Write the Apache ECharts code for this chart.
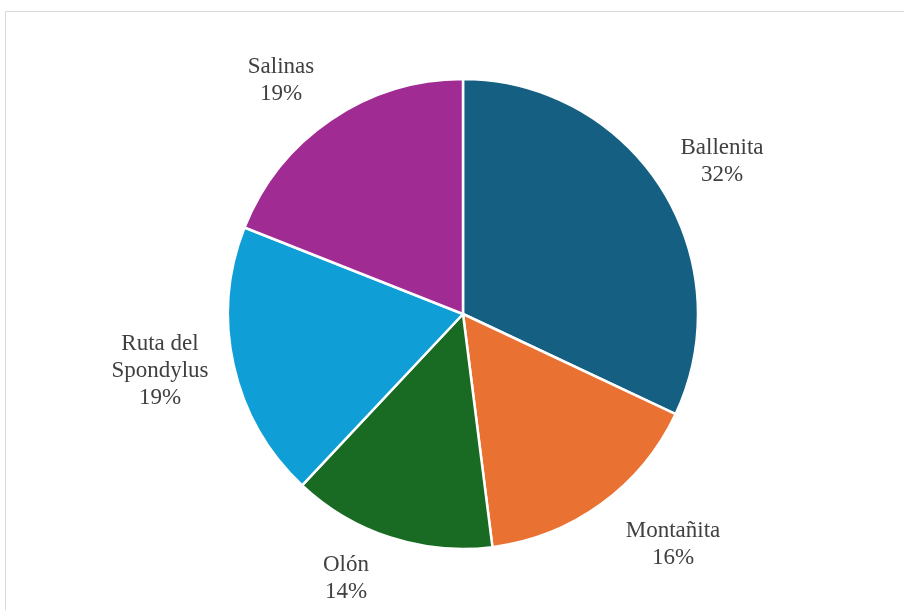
<!DOCTYPE html>
<html>
<head>
<meta charset="utf-8">
<script src="https://cdn.jsdelivr.net/npm/echarts@6/dist/echarts.min.js"></script>
<style>
  html, body { margin: 0; padding: 0; background: #ffffff; }
  #chart { width: 904px; height: 610px; }
</style>
</head>
<body>
<div id="chart"></div>
<script>
// Share of visits by destination (percent)
const categories = ['Ballenita', 'Montañita', 'Olón', 'Ruta del Spondylus', 'Salinas'];
const shares = [32, 16, 14, 19, 19];
const sliceColors = ['#156082', '#E97132', '#196B24', '#0F9ED5', '#A02B93'];

// Label anchor points (centre of each text block), best-fit outside the pie
const labelAnchors = [[722, 161], [673, 544], [346, 578], [160, 371], [281, 80]];

const chart = echarts.init(document.getElementById('chart'), null, { renderer: 'canvas' });

chart.setOption({
  backgroundColor: '#ffffff',
  animation: false,
  graphic: [{
    type: 'rect',
    shape: { x: 5.5, y: 11.5, width: 1000, height: 1000 },
    style: { fill: 'none', stroke: '#d9d9d9', lineWidth: 1 },
    silent: true
  }],
  series: [{
    type: 'pie',
    center: [463, 314],
    radius: 235,
    startAngle: 90,
    clockwise: true,
    avoidLabelOverlap: false,
    data: categories.map((name, i) => ({
      name: name,
      value: shares[i],
      itemStyle: { color: sliceColors[i] }
    })),
    itemStyle: { borderColor: '#ffffff', borderWidth: 2.5 },
    label: {
      show: true,
      position: 'outside',
      formatter: p => p.name.replace('Ruta del ', 'Ruta del\n') + '\n' + p.value + '%',
      fontFamily: '"Liberation Serif", "Times New Roman", serif',
      fontSize: 23,
      lineHeight: 27,
      color: '#404040',
      align: 'center'
    },
    labelLine: { show: false },
    labelLayout: params => {
      const a = labelAnchors[params.dataIndex];
      return { x: a[0], y: a[1], align: 'center', verticalAlign: 'middle' };
    },
    emphasis: { disabled: true }
  }]
});
</script>
</body>
</html>
